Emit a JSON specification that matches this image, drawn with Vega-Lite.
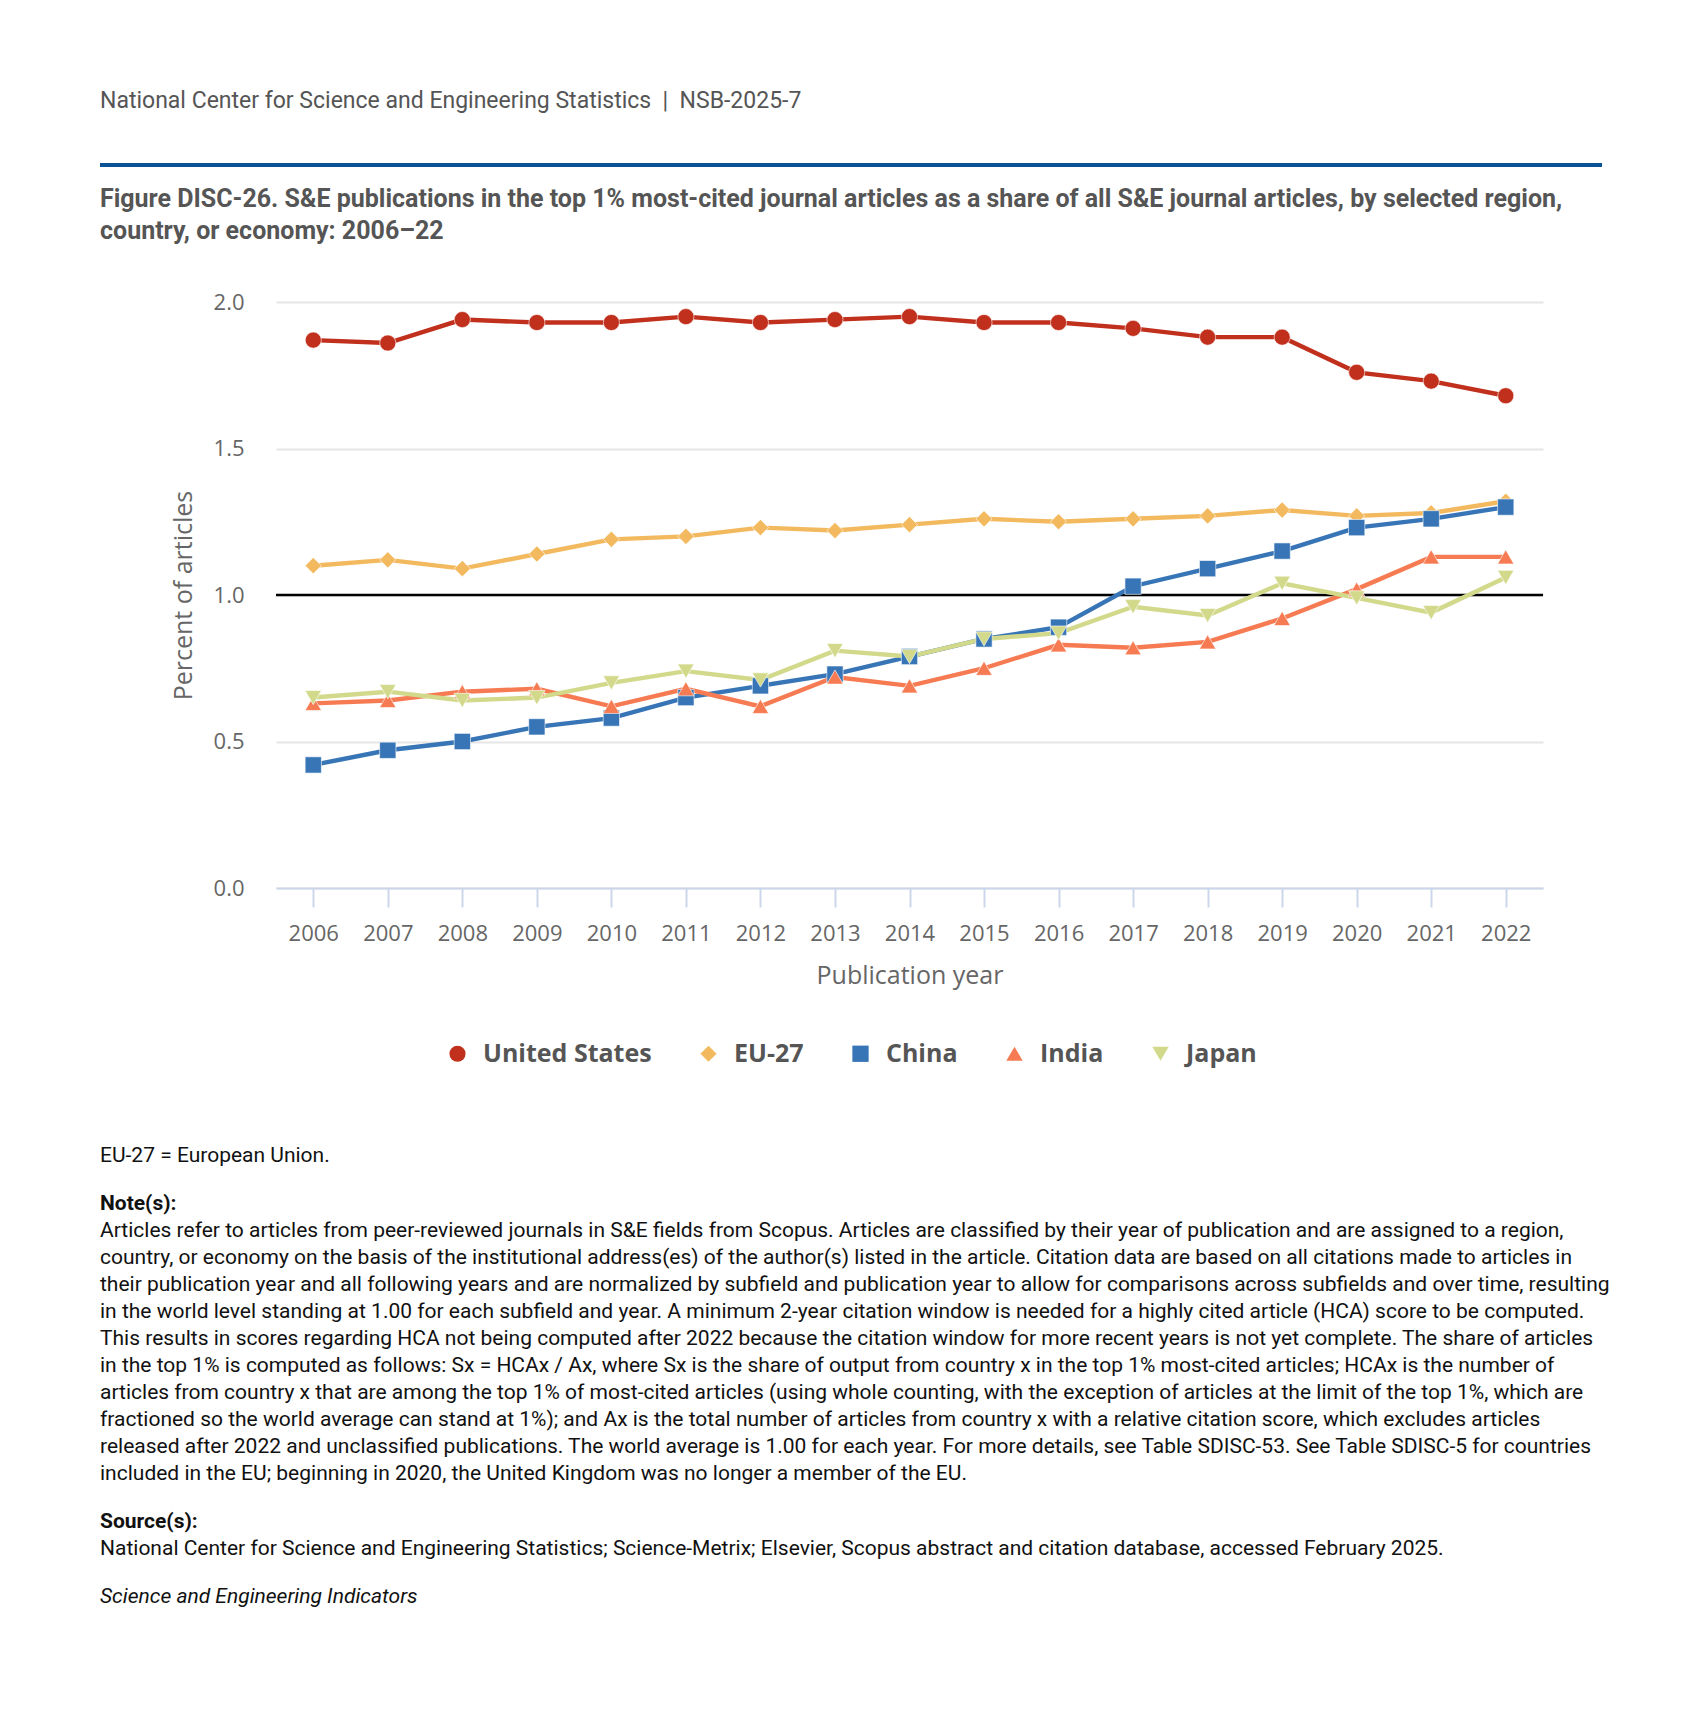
{
  "$schema": "https://vega.github.io/schema/vega-lite/v6.json",
  "background": "white",
  "padding": {"left": 98, "top": 90, "right": 10, "bottom": 10},
  "config": {"view": {"stroke": null}},
  "columns": 1,
  "spacing": 20,
  "concat": [
    {
      "width": 1502,
      "height": 4,
      "title": {"text": "National Center for Science and Engineering Statistics\u00a0\u00a0|\u00a0\u00a0NSB-2025-7", "anchor": "start", "frame": "group", "font": "Roboto", "fontSize": 23, "fontWeight": "normal", "color": "#555555", "offset": 50},
      "data": {"values": [{"v": 1}]},
      "mark": {"type": "rule", "color": "#0b5296", "strokeWidth": 4},
      "encoding": {"y": {"field": "v", "type": "quantitative", "scale": {"domain": [0, 2]}, "axis": null}}
    },
    {
      "columns": 1,
      "spacing": 154,
      "concat": [
        {
          "title": {"text": ["Figure DISC-26. S&E publications in the top 1% most-cited journal articles as a share of all S&E journal articles, by selected region,", "country, or economy: 2006\u201322"], "anchor": "start", "frame": "group", "font": "Roboto", "fontSize": 25, "fontWeight": "bold", "color": "#555555", "lineHeight": 32, "offset": 47},
          "spacing": 0,
          "hconcat": [
            {"width": 71, "height": 1, "data": {"values": []}, "mark": "point"},
            {
              "width": 1267,
              "height": 586,
              "layer": [
                {
                  "data": {"values": [{"world": 1}]},
                  "mark": {"type": "rule", "color": "#000000", "strokeWidth": 2.5},
                  "encoding": {"y": {"field": "world", "type": "quantitative", "scale": {"domain": [0, 2]},
                    "axis": {"title": "Percent of articles", "titleFont": "Open Sans", "titleFontSize": 25, "titleFontWeight": "normal", "titleColor": "#666666", "titlePadding": 17,
                      "labelFont": "Open Sans", "labelFontSize": 22, "labelColor": "#666666", "labelPadding": 32, "domain": false, "ticks": false, "tickSize": 0,
                      "values": [0, 0.5, 1, 1.5, 2], "format": ".1f", "gridColor": "#e6e6e6", "gridWidth": 2}}}
                },
                {
                  "data": {"name": "series"},
                  "mark": {"type": "line", "strokeWidth": 4.4},
                  "encoding": {
                    "x": {"field": "year", "type": "ordinal", "scale": {"type": "point", "padding": 0.5},
                      "axis": {"title": "Publication year", "titleFont": "Open Sans", "titleFontSize": 25, "titleFontWeight": "normal", "titleColor": "#666666", "titlePadding": 19,
                        "labelFont": "Open Sans", "labelFontSize": 22, "labelColor": "#666666", "labelAngle": 0, "labelPadding": 16,
                        "domainColor": "#ccd6eb", "domainWidth": 2, "tickColor": "#ccd6eb", "tickWidth": 2, "tickSize": 19, "grid": false}},
                    "y": {"field": "value", "type": "quantitative", "scale": {"domain": [0, 2]},
                      "axis": {"title": "Percent of articles", "titleFont": "Open Sans", "titleFontSize": 25, "titleFontWeight": "normal", "titleColor": "#666666", "titlePadding": 17,
                        "labelFont": "Open Sans", "labelFontSize": 22, "labelColor": "#666666", "labelPadding": 32, "domain": false, "ticks": false, "tickSize": 0,
                        "values": [0, 0.5, 1, 1.5, 2], "format": ".1f", "gridColor": "#e6e6e6", "gridWidth": 2}},
                    "color": {"field": "country", "type": "nominal", "title": null,
                      "scale": {"domain": ["United States", "EU-27", "China", "India", "Japan"], "range": ["#c1301c", "#f3b95f", "#3775b6", "#f77b52", "#d2d98b"]},
                      "legend": {"orient": "none", "direction": "horizontal", "legendX": 345, "legendY": 878,
                        "labelFont": "Open Sans", "labelFontSize": 25, "labelFontWeight": "bold", "labelColor": "#555555", "labelOffset": 13, "labelLimit": 400,
                        "symbolSize": 280, "columnPadding": 44, "symbolStrokeWidth": 0}}
                  }
                },
                {
                  "data": {"name": "series"},
                  "mark": {"type": "point", "filled": true, "opacity": 1, "stroke": "#ffffff", "strokeWidth": 1, "strokeOpacity": 0.6},
                  "encoding": {
                    "x": {"field": "year", "type": "ordinal"},
                    "y": {"field": "value", "type": "quantitative"},
                    "size": {"field": "country", "type": "nominal", "legend": null,
                      "scale": {"domain": ["United States", "EU-27", "China", "India", "Japan"], "range": [260, 270, 280, 330, 330]}},
                    "color": {"field": "country", "type": "nominal", "title": null,
                      "legend": {"orient": "none", "direction": "horizontal", "legendX": 345, "legendY": 878,
                        "labelFont": "Open Sans", "labelFontSize": 25, "labelFontWeight": "bold", "labelColor": "#555555", "labelOffset": 13, "labelLimit": 400,
                        "symbolSize": 280, "columnPadding": 44, "symbolStrokeWidth": 0}},
                    "shape": {"field": "country", "type": "nominal", "title": null,
                      "scale": {"domain": ["United States", "EU-27", "China", "India", "Japan"], "range": ["circle", "diamond", "square", "triangle-up", "triangle-down"]},
                      "legend": {"orient": "none", "direction": "horizontal", "legendX": 345, "legendY": 878,
                        "labelFont": "Open Sans", "labelFontSize": 25, "labelFontWeight": "bold", "labelColor": "#555555", "labelOffset": 13, "labelLimit": 400,
                        "symbolSize": 280, "columnPadding": 44, "symbolStrokeWidth": 0}}
                  }
                }
              ]
            }
          ]
        },
        {
          "columns": 1,
          "spacing": 21,
          "concat": [
            {
              "width": 1510,
              "height": 27,
              "data": {"values": [{"i": 0, "t": "EU-27 = European Union."}]},
              "mark": {"type": "text", "align": "left", "baseline": "middle", "font": "Roboto", "fontSize": 21, "color": "#111111"},
              "encoding": {"x": {"value": 0}, "y": {"field": "i", "type": "ordinal", "axis": null, "scale": {"type": "point", "padding": 0.5}}, "text": {"field": "t"}}
            },
            {
              "width": 1510,
              "height": 297,
              "data": {"values": [
                {"i": 0, "kind": "head", "t": "Note(s):"},
                {"i": 1, "kind": "body", "t": "Articles refer to articles from peer-reviewed journals in S&E fields from Scopus. Articles are classified by their year of publication and are assigned to a region,"},
                {"i": 2, "kind": "body", "t": "country, or economy on the basis of the institutional address(es) of the author(s) listed in the article. Citation data are based on all citations made to articles in"},
                {"i": 3, "kind": "body", "t": "their publication year and all following years and are normalized by subfield and publication year to allow for comparisons across subfields and over time, resulting"},
                {"i": 4, "kind": "body", "t": "in the world level standing at 1.00 for each subfield and year. A minimum 2-year citation window is needed for a highly cited article (HCA) score to be computed."},
                {"i": 5, "kind": "body", "t": "This results in scores regarding HCA not being computed after 2022 because the citation window for more recent years is not yet complete. The share of articles"},
                {"i": 6, "kind": "body", "t": "in the top 1% is computed as follows: Sx = HCAx / Ax, where Sx is the share of output from country x in the top 1% most-cited articles; HCAx is the number of"},
                {"i": 7, "kind": "body", "t": "articles from country x that are among the top 1% of most-cited articles (using whole counting, with the exception of articles at the limit of the top 1%, which are"},
                {"i": 8, "kind": "body", "t": "fractioned so the world average can stand at 1%); and Ax is the total number of articles from country x with a relative citation score, which excludes articles"},
                {"i": 9, "kind": "body", "t": "released after 2022 and unclassified publications. The world average is 1.00 for each year. For more details, see Table SDISC-53. See Table SDISC-5 for countries"},
                {"i": 10, "kind": "body", "t": "included in the EU; beginning in 2020, the United Kingdom was no longer a member of the EU."}
              ]},
              "encoding": {"x": {"value": 0}, "y": {"field": "i", "type": "ordinal", "axis": null, "scale": {"type": "point", "padding": 0.5}}, "text": {"field": "t"}},
              "layer": [
                {"transform": [{"filter": "datum.kind === 'head'"}], "mark": {"type": "text", "align": "left", "baseline": "middle", "font": "Roboto", "fontSize": 21, "fontWeight": "bold", "color": "#111111"}},
                {"transform": [{"filter": "datum.kind === 'body'"}], "mark": {"type": "text", "align": "left", "baseline": "middle", "font": "Roboto", "fontSize": 21, "color": "#111111"}}
              ]
            },
            {
              "width": 1510,
              "height": 54,
              "data": {"values": [
                {"i": 0, "kind": "head", "t": "Source(s):"},
                {"i": 1, "kind": "body", "t": "National Center for Science and Engineering Statistics; Science-Metrix; Elsevier, Scopus abstract and citation database, accessed February 2025."}
              ]},
              "encoding": {"x": {"value": 0}, "y": {"field": "i", "type": "ordinal", "axis": null, "scale": {"type": "point", "padding": 0.5}}, "text": {"field": "t"}},
              "layer": [
                {"transform": [{"filter": "datum.kind === 'head'"}], "mark": {"type": "text", "align": "left", "baseline": "middle", "font": "Roboto", "fontSize": 21, "fontWeight": "bold", "color": "#111111"}},
                {"transform": [{"filter": "datum.kind === 'body'"}], "mark": {"type": "text", "align": "left", "baseline": "middle", "font": "Roboto", "fontSize": 21, "color": "#111111"}}
              ]
            },
            {
              "width": 1510,
              "height": 27,
              "data": {"values": [{"i": 0, "t": "Science and Engineering Indicators"}]},
              "mark": {"type": "text", "align": "left", "baseline": "middle", "font": "Roboto", "fontSize": 21, "fontStyle": "italic", "color": "#111111"},
              "encoding": {"x": {"value": 0}, "y": {"field": "i", "type": "ordinal", "axis": null, "scale": {"type": "point", "padding": 0.5}}, "text": {"field": "t"}}
            }
          ]
        }
      ]
    }
  ],
  "datasets": {
    "series": [
      {"country": "United States", "year": 2006, "value": 1.87}, {"country": "United States", "year": 2007, "value": 1.86}, {"country": "United States", "year": 2008, "value": 1.94}, {"country": "United States", "year": 2009, "value": 1.93}, {"country": "United States", "year": 2010, "value": 1.93}, {"country": "United States", "year": 2011, "value": 1.95}, {"country": "United States", "year": 2012, "value": 1.93}, {"country": "United States", "year": 2013, "value": 1.94}, {"country": "United States", "year": 2014, "value": 1.95}, {"country": "United States", "year": 2015, "value": 1.93}, {"country": "United States", "year": 2016, "value": 1.93}, {"country": "United States", "year": 2017, "value": 1.91}, {"country": "United States", "year": 2018, "value": 1.88}, {"country": "United States", "year": 2019, "value": 1.88}, {"country": "United States", "year": 2020, "value": 1.76}, {"country": "United States", "year": 2021, "value": 1.73}, {"country": "United States", "year": 2022, "value": 1.68},
      {"country": "EU-27", "year": 2006, "value": 1.10}, {"country": "EU-27", "year": 2007, "value": 1.12}, {"country": "EU-27", "year": 2008, "value": 1.09}, {"country": "EU-27", "year": 2009, "value": 1.14}, {"country": "EU-27", "year": 2010, "value": 1.19}, {"country": "EU-27", "year": 2011, "value": 1.20}, {"country": "EU-27", "year": 2012, "value": 1.23}, {"country": "EU-27", "year": 2013, "value": 1.22}, {"country": "EU-27", "year": 2014, "value": 1.24}, {"country": "EU-27", "year": 2015, "value": 1.26}, {"country": "EU-27", "year": 2016, "value": 1.25}, {"country": "EU-27", "year": 2017, "value": 1.26}, {"country": "EU-27", "year": 2018, "value": 1.27}, {"country": "EU-27", "year": 2019, "value": 1.29}, {"country": "EU-27", "year": 2020, "value": 1.27}, {"country": "EU-27", "year": 2021, "value": 1.28}, {"country": "EU-27", "year": 2022, "value": 1.32},
      {"country": "China", "year": 2006, "value": 0.42}, {"country": "China", "year": 2007, "value": 0.47}, {"country": "China", "year": 2008, "value": 0.50}, {"country": "China", "year": 2009, "value": 0.55}, {"country": "China", "year": 2010, "value": 0.58}, {"country": "China", "year": 2011, "value": 0.65}, {"country": "China", "year": 2012, "value": 0.69}, {"country": "China", "year": 2013, "value": 0.73}, {"country": "China", "year": 2014, "value": 0.79}, {"country": "China", "year": 2015, "value": 0.85}, {"country": "China", "year": 2016, "value": 0.89}, {"country": "China", "year": 2017, "value": 1.03}, {"country": "China", "year": 2018, "value": 1.09}, {"country": "China", "year": 2019, "value": 1.15}, {"country": "China", "year": 2020, "value": 1.23}, {"country": "China", "year": 2021, "value": 1.26}, {"country": "China", "year": 2022, "value": 1.30},
      {"country": "India", "year": 2006, "value": 0.63}, {"country": "India", "year": 2007, "value": 0.64}, {"country": "India", "year": 2008, "value": 0.67}, {"country": "India", "year": 2009, "value": 0.68}, {"country": "India", "year": 2010, "value": 0.62}, {"country": "India", "year": 2011, "value": 0.68}, {"country": "India", "year": 2012, "value": 0.62}, {"country": "India", "year": 2013, "value": 0.72}, {"country": "India", "year": 2014, "value": 0.69}, {"country": "India", "year": 2015, "value": 0.75}, {"country": "India", "year": 2016, "value": 0.83}, {"country": "India", "year": 2017, "value": 0.82}, {"country": "India", "year": 2018, "value": 0.84}, {"country": "India", "year": 2019, "value": 0.92}, {"country": "India", "year": 2020, "value": 1.02}, {"country": "India", "year": 2021, "value": 1.13}, {"country": "India", "year": 2022, "value": 1.13},
      {"country": "Japan", "year": 2006, "value": 0.65}, {"country": "Japan", "year": 2007, "value": 0.67}, {"country": "Japan", "year": 2008, "value": 0.64}, {"country": "Japan", "year": 2009, "value": 0.65}, {"country": "Japan", "year": 2010, "value": 0.70}, {"country": "Japan", "year": 2011, "value": 0.74}, {"country": "Japan", "year": 2012, "value": 0.71}, {"country": "Japan", "year": 2013, "value": 0.81}, {"country": "Japan", "year": 2014, "value": 0.79}, {"country": "Japan", "year": 2015, "value": 0.85}, {"country": "Japan", "year": 2016, "value": 0.87}, {"country": "Japan", "year": 2017, "value": 0.96}, {"country": "Japan", "year": 2018, "value": 0.93}, {"country": "Japan", "year": 2019, "value": 1.04}, {"country": "Japan", "year": 2020, "value": 0.99}, {"country": "Japan", "year": 2021, "value": 0.94}, {"country": "Japan", "year": 2022, "value": 1.06}
    ]
  }
}
